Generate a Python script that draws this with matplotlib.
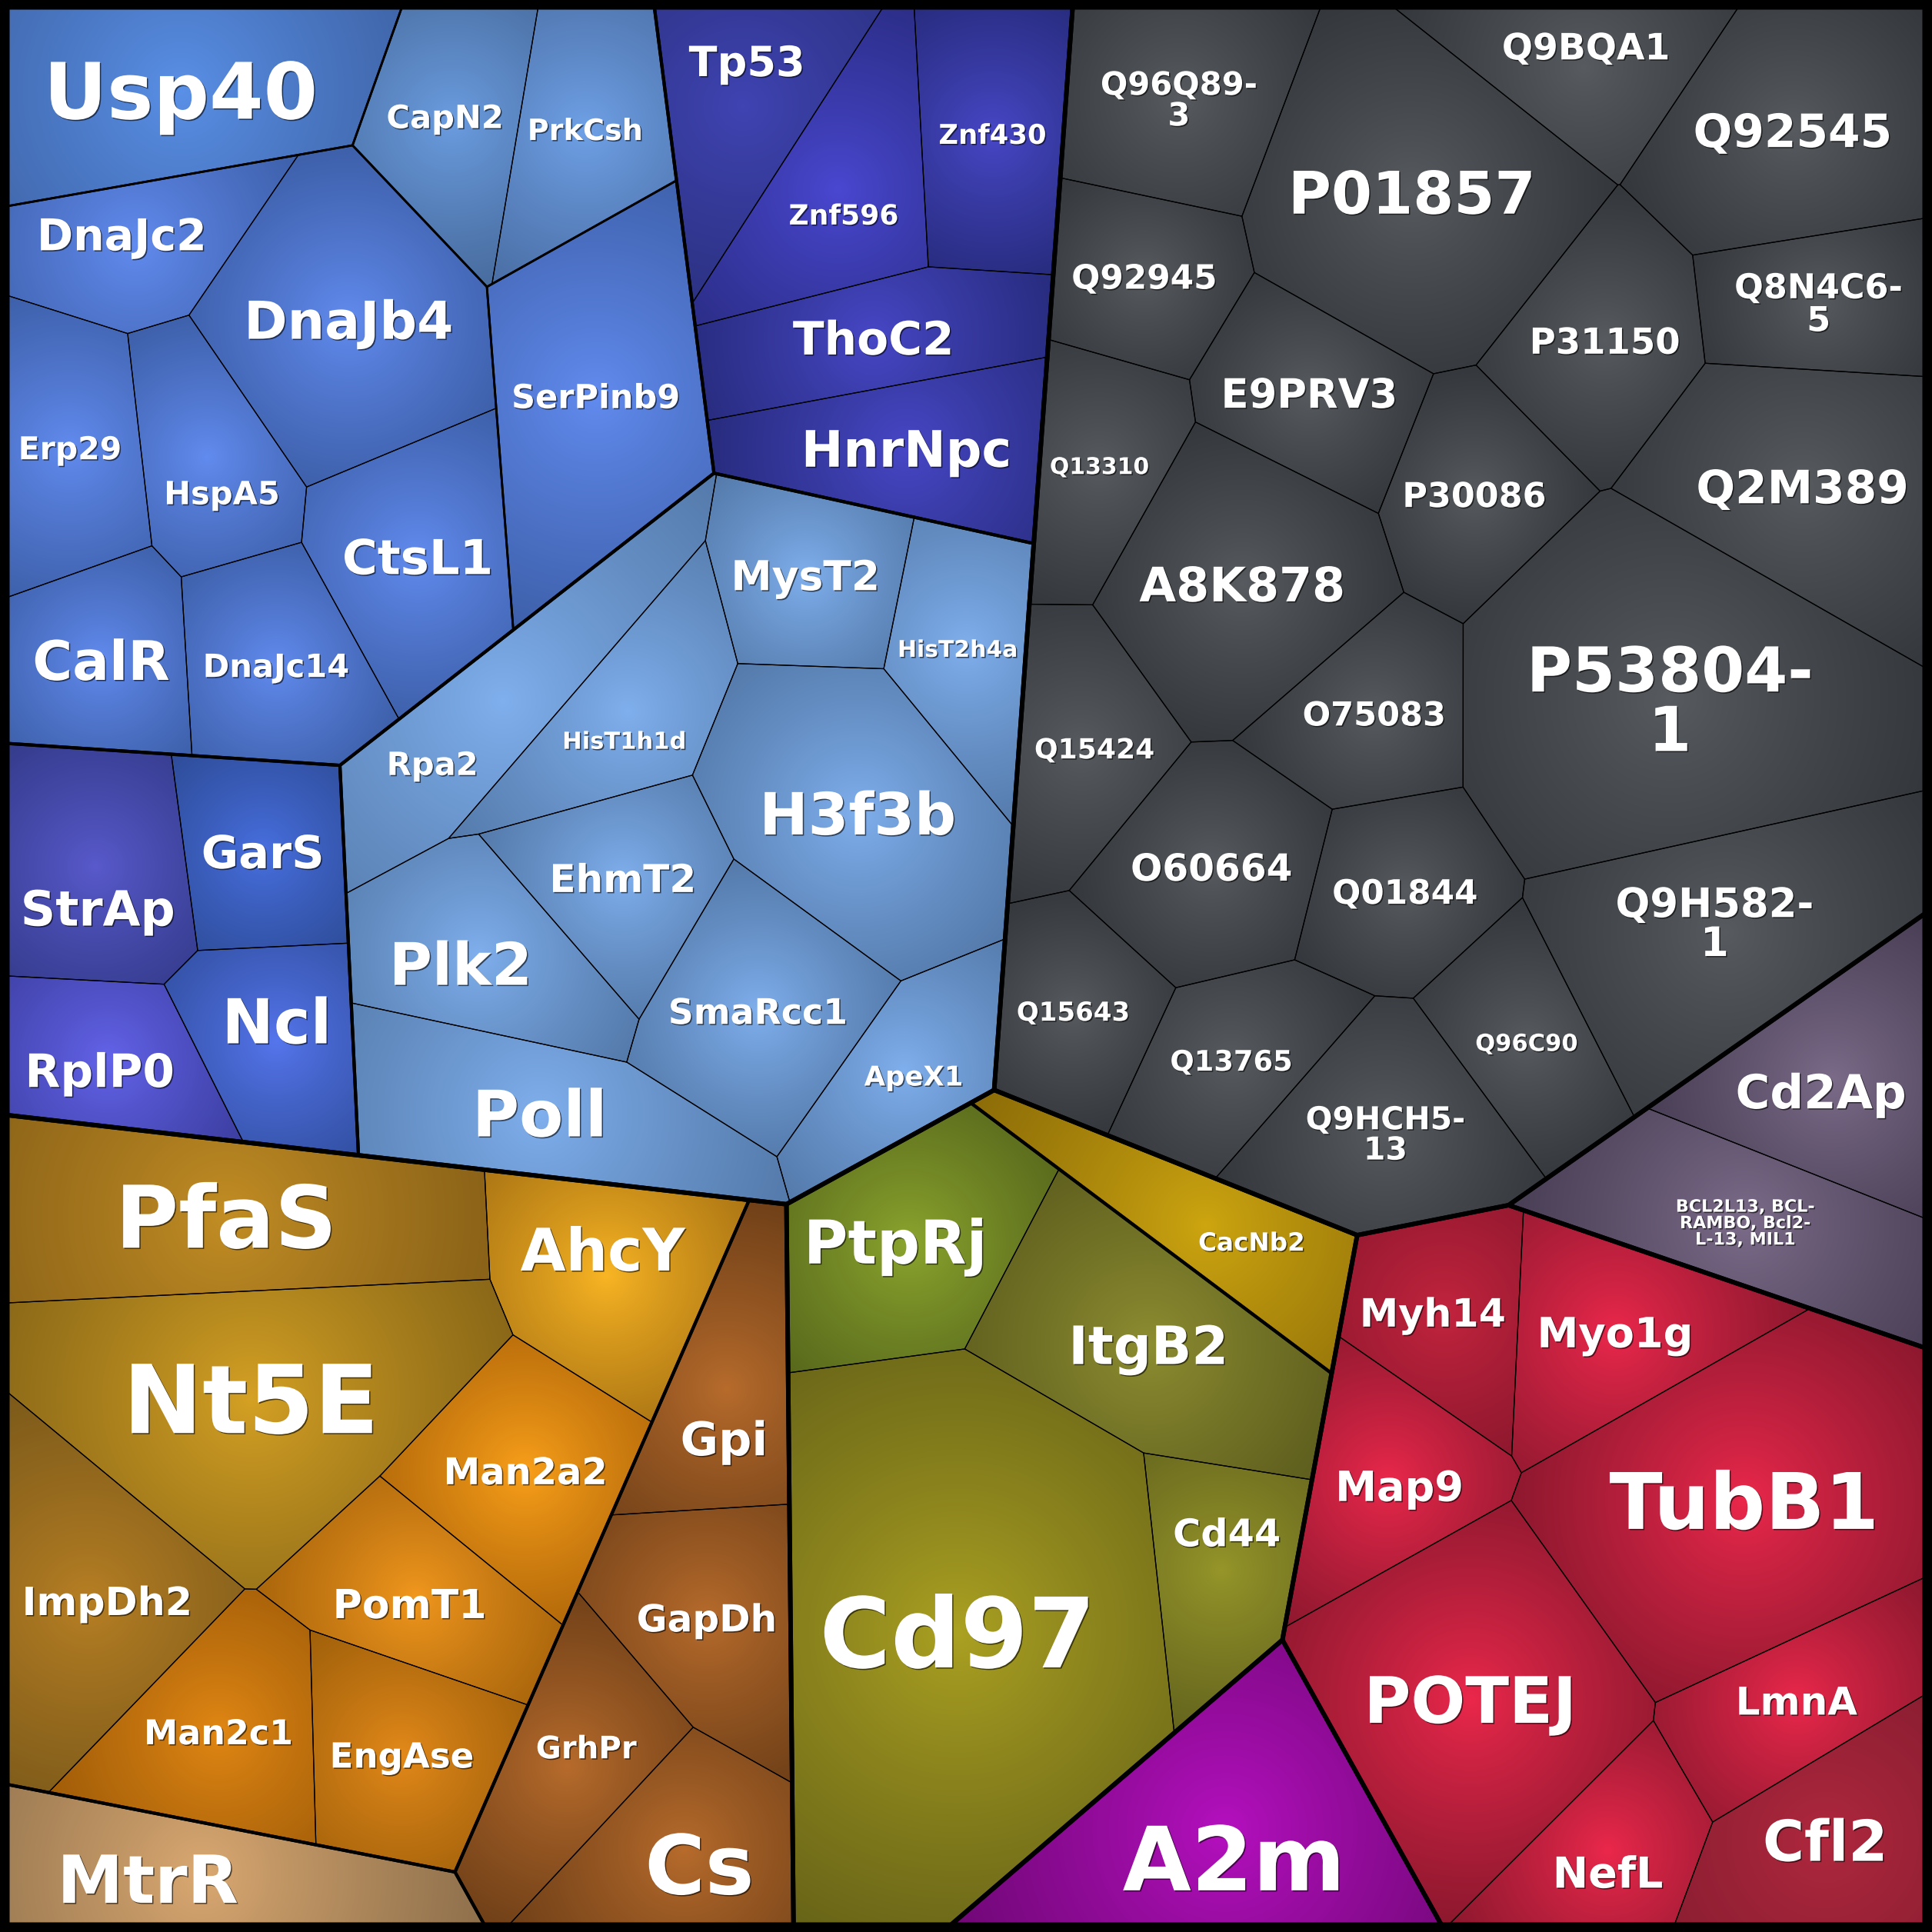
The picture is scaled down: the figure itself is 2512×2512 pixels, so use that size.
import re
import numpy as np
import matplotlib
matplotlib.use("Agg")
import matplotlib.pyplot as plt
from matplotlib.path import Path
from matplotlib.patches import Polygon
from matplotlib.textpath import TextPath
from matplotlib.font_manager import FontProperties
import matplotlib.patheffects as pe

# ---------------- data ----------------
# protein names, their place in the hierarchy and the cell size (area, x1000)
names = [
    "Usp40", "CapN2", "PrkCsh", "SerPinb9", "DnaJc2", "DnaJb4", "Erp29", "HspA5", "CtsL1", "CalR", "DnaJc14",
    "Tp53", "Znf596", "Znf430", "ThoC2", "HnrNpc",
    "Rpa2", "MysT2", "HisT2h4a", "HisT1h1d", "H3f3b", "EhmT2", "Plk2", "SmaRcc1", "Poll", "ApeX1",
    "StrAp", "GarS", "Ncl", "RplP0",
    "Q96Q89-3", "Q9BQA1", "P01857", "Q92545", "Q92945", "Q8N4C6-5", "P31150", "E9PRV3", "Q13310", "Q2M389",
    "P30086", "A8K878", "O75083", "P53804-1", "Q15424", "O60664", "Q01844", "Q9H582-1", "Q15643", "Q13765",
    "Q9HCH5-13", "Q96C90",
    "Cd2Ap", "BCL2L13, BCL-RAMBO, Bcl2-L-13, MIL1",
    "Myh14", "Myo1g", "Map9", "TubB1", "POTEJ", "LmnA", "NefL", "Cfl2",
    "A2m",
    "PtpRj", "ItgB2", "Cd44", "Cd97", "CacNb2",
    "PfaS", "AhcY", "Nt5E", "Man2a2", "PomT1", "ImpDh2", "Man2c1", "EngAse",
    "MtrR",
    "Gpi", "GapDh", "GrhPr", "Cs",
]
groups = (["blue/A/usp", "blue/A/cap", "blue/A/cap", "blue/A/serp"] + ["blue/A/dna"] * 7
          + ["blue/B"] * 5 + ["blue/C"] * 10 + ["blue/D"] * 4
          + ["gray"] * 22 + ["purple"] * 2 + ["red"] * 8 + ["a2m"]
          + ["olive/olive"] * 4 + ["olive/yellow"]
          + ["orange/orange"] * 8 + ["orange/tan"] + ["orange/brown"] * 4)
values = [
    40.2, 21.2, 21.7, 43.3, 20.2, 43.1, 22.3, 19.6, 27.6, 21.0, 22.7,
    22.1, 25.0, 24.4, 23.3, 25.8,
    28.6, 20.4, 19.2, 21.7, 44.5, 20.8, 25.9, 28.5, 33.0, 18.3,
    26.7, 19.5, 20.1, 18.6,
    27.2, 20.1, 55.4, 38.0, 19.6, 19.7, 25.7, 21.8, 18.9, 39.2,
    21.7, 38.4, 20.6, 79.9, 22.1, 27.2, 21.7, 46.8, 19.5, 20.6,
    29.0, 19.4,
    27.6, 31.4,
    20.1, 25.5, 22.0, 67.8, 55.6, 21.4, 18.3, 24.3,
    45.6,
    31.6, 39.4, 19.9, 118.0, 21.2,
    46.6, 27.6, 62.4, 26.7, 22.8, 33.7, 25.8, 23.4,
    28.7,
    21.5, 26.0, 23.1, 22.9,
]

# ---------------- layout seeds (target cell centres, 1568 x 1568 layout space) ----------------
seed_x = [148, 365, 478, 484, 111, 285, 58, 170, 340, 83, 225,
          601, 685, 805, 702, 738,
          414, 652, 782, 502, 695, 511, 388, 617, 440, 734,
          80, 215, 226, 90,
          956, 1284, 1145, 1453, 928, 1474, 1301, 1062, 892, 1461,
          1196, 1008, 1115, 1354, 878, 984, 1140, 1399, 872, 1000,
          1124, 1238,
          1486, 1416,
          1172, 1309, 1127, 1414, 1194, 1456, 1305, 1480,
          995,
          739, 932, 990, 778, 977,
          185, 492, 205, 426, 338, 73, 179, 326,
          165,
          590, 574, 461, 555]
seed_y = [74, 98, 106, 321, 198, 260, 364, 371, 450, 534, 538,
          88, 145, 117, 275, 363,
          561, 468, 525, 587, 658, 716, 770, 819, 902, 867,
          702, 690, 843, 858,
          81, 56, 157, 107, 225, 246, 277, 319, 377, 395,
          401, 473, 578, 566, 605, 702, 722, 755, 819, 859,
          917, 844,
          877, 991,
          1065, 1081, 1201, 1218, 1378, 1379, 1500, 1493,
          1484,
          1008, 1090, 1273, 1323, 996,
          987, 1033, 1134, 1192, 1294, 1298, 1404, 1423,
          1519,
          1125, 1312, 1432, 1499]

# ---------------- styles ----------------
font_pt = [73, 30, 27.5, 31, 41, 49, 29.5, 30, 45, 51, 30,
           39, 26, 25.5, 43, 47,
           30, 38.5, 21.5, 22, 54.5, 36, 55, 33, 60, 25.5,
           45.5, 42.5, 58, 43,
           30, 34, 55, 43, 31.5, 32, 33.5, 38, 21.5, 43,
           32, 44.5, 31, 58, 26, 35, 31.5, 38, 24.5, 26.5,
           29.5, 22,
           44, 16,
           36.5, 39, 39, 73, 60, 36, 40, 53,
           83,
           56.5, 49.5, 35.5, 91, 23.5,
           81, 55, 89, 34.5, 37.5, 36.5, 32, 32.5,
           62,
           43.5, 35, 29, 77]
wrap_at = {"Q96Q89-3": 7, "Q8N4C6-5": 7, "P53804-1": 7, "Q9H582-1": 7, "Q9HCH5-13": 7,
           "BCL2L13, BCL-RAMBO, Bcl2-L-13, MIL1": 13}

palette = {
    "A": ((98, 140, 240), (62, 96, 170)),
    "B": ((72, 72, 200), (40, 44, 126)),
    "C": ((128, 176, 238), (84, 122, 170)),
    "D": ((88, 104, 222), (50, 66, 150)),
    "gray": ((88, 92, 96), (52, 55, 60)),
    "purple": ((124, 108, 138), (72, 62, 84)),
    "red": ((236, 40, 76), (140, 24, 46)),
    "a2m": ((182, 16, 192), (112, 8, 118)),
    "olive": ((160, 155, 40), (100, 100, 28)),
    "yellow": ((206, 166, 16), (140, 108, 8)),
    "orange": ((236, 160, 30), (150, 100, 20)),
    "tan": ((220, 170, 114), (142, 112, 76)),
    "brown": ((184, 108, 44), (112, 64, 24)),
}
leaf_colors = {
    "Usp40": ((90, 145, 232), (64, 102, 170)), "CapN2": ((108, 158, 226), (72, 108, 158)),
    "PrkCsh": ((112, 162, 232), (74, 110, 164)),
    "Tp53": ((64, 68, 180), (44, 50, 130)), "Znf596": ((74, 72, 210), (44, 46, 136)),
    "StrAp": ((90, 90, 205), (52, 60, 140)), "GarS": ((72, 112, 225), (46, 76, 152)),
    "Ncl": ((86, 118, 238), (50, 80, 162)), "RplP0": ((100, 100, 235), (60, 62, 160)),
    "PfaS": ((195, 142, 36), (138, 98, 24)), "AhcY": ((250, 182, 36), (172, 118, 20)),
    "Nt5E": ((214, 162, 36), (138, 104, 24)), "Man2a2": ((250, 160, 26), (180, 106, 10)),
    "ImpDh2": ((184, 128, 36), (124, 90, 26)), "PomT1": ((242, 152, 30), (170, 102, 12)),
    "Man2c1": ((226, 136, 20), (160, 92, 8)), "EngAse": ((228, 138, 26), (160, 96, 10)),
    "PtpRj": ((140, 166, 46), (88, 104, 28)), "ItgB2": ((142, 142, 50), (94, 94, 30)),
    "Cd44": ((150, 150, 42), (100, 100, 30)), "Cd97": ((172, 162, 34), (104, 100, 24)),
    "Myh14": ((196, 36, 62), (142, 24, 46)), "Cfl2": ((176, 40, 62), (140, 30, 50)),
}
line_pt = {1: 4.2, 2: 3.0, 3: 2.0}
leaf_line_pt = 0.9
SIZE = 1568


# ---------------- power diagram helpers ----------------
def clip(poly, a, b, c, lab):
    # keep the part with a*x + b*y <= c, new edge gets label lab
    out = []
    n = len(poly)
    for k in range(n):
        px, py, pl = poly[k]
        qx, qy, _ = poly[(k + 1) % n]
        fp = a * px + b * py - c
        fq = a * qx + b * qy - c
        if fp <= 0:
            out.append((px, py, pl))
            if fq > 0:
                t = fp / (fp - fq)
                out.append((px + t * (qx - px), py + t * (qy - py), lab))
        elif fq <= 0:
            t = fp / (fp - fq)
            out.append((px + t * (qx - px), py + t * (qy - py), pl))
    return out


def power_cells(base, S, w):
    xs, ys, ws = S[:, 0].tolist(), S[:, 1].tolist(), w.tolist()
    n = len(xs)
    res = []
    for i in range(n):
        poly = base
        xi, yi, wi = xs[i], ys[i], ws[i]
        qi = xi * xi + yi * yi
        for j in range(n):
            if j == i:
                continue
            xj, yj = xs[j], ys[j]
            poly = clip(poly, 2 * (xj - xi), 2 * (yj - yi), xj * xj + yj * yj - qi - ws[j] + wi, j)
            if len(poly) < 3:
                poly = []
                break
        res.append(poly)
    return res


def measure(poly):
    n = len(poly)
    a2 = cx = cy = 0.0
    L = {}
    for k in range(n):
        x0, y0, lab = poly[k]
        x1, y1, _ = poly[(k + 1) % n]
        cr = x0 * y1 - x1 * y0
        a2 += cr
        cx += (x0 + x1) * cr
        cy += (y0 + y1) * cr
        L[lab] = L.get(lab, 0.0) + ((x1 - x0) ** 2 + (y1 - y0) ** 2) ** 0.5
    if abs(a2) < 1e-9:
        return 0.0, None, L
    return abs(a2) / 2, (cx / (3 * a2), cy / (3 * a2)), L


def poly_area(pts):
    p = np.asarray(pts, float)
    q = np.roll(p, -1, axis=0)
    return abs((p[:, 0] * q[:, 1] - q[:, 0] * p[:, 1]).sum()) / 2


def evaluate(base, S, w):
    polys = power_cells(base, S, w)
    n = len(S)
    a = np.zeros(n)
    cen = S.copy()
    H = np.zeros((n, n))
    for i, poly in enumerate(polys):
        if not poly:
            continue
        ar, c, L = measure(poly)
        a[i] = ar
        if c is not None:
            cen[i] = c
        for j, l in L.items():
            if j >= 0 and l > 0:
                d = max(np.hypot(S[j, 0] - S[i, 0], S[j, 1] - S[i, 1]), 1e-6)
                H[i, j] -= l / (2 * d)
                H[i, i] += l / (2 * d)
    return a, cen, 0.5 * (H + H.T)


def solve_weights(base, S, w, A, state, maxit=30):
    # damped Newton on the power weights so that cell areas match A
    a, cen, H = state
    lim = 0.3 * A.mean()
    for _ in range(maxit):
        err = A - a
        if np.abs(err).max() < 1e-3 * A.min():
            break
        empty = a <= 0
        e0 = np.abs(err).sum()
        dw = np.linalg.lstsq(H, err, rcond=1e-10)[0]
        dw[empty] = lim
        dw = np.clip(dw, -lim, lim)
        step, ok = 1.0, False
        for _ in range(10):
            w2 = w + step * dw
            w2 -= w2.mean()
            st2 = evaluate(base, S, w2)
            ne2 = (st2[0] <= 0).sum()
            if ne2 < empty.sum() or (ne2 <= empty.sum() and np.abs(A - st2[0]).sum() < (1 - step / 4) * e0):
                ok = True
                break
            step /= 2
        if not ok:
            break
        w = w2
        a, cen, H = st2
    return w, (a, cen, H)


def fit(parent, A, C, outer=35):
    n = len(A)
    if n == 1:
        return [parent]
    base = [(x, y, -1) for x, y in parent]
    A = A * poly_area(parent) / A.sum()
    pp = Path(np.array(parent))
    pc = np.array(measure(base)[1])
    S = C.astype(float).copy()
    for i in range(n):
        for _ in range(40):
            if pp.contains_point(S[i]):
                break
            S[i] = pc + 0.9 * (S[i] - pc)
    C = S.copy()
    w = np.zeros(n)
    state = evaluate(base, S, w)
    for _ in range(outer):
        w, state = solve_weights(base, S, w, A, state)
        a, cen = state[0], state[1]
        if (a <= 0).any():
            break
        moved = C - cen
        m = np.hypot(moved[:, 0], moved[:, 1]).max()
        if m < 0.4:
            break
        if m > 12:
            moved *= 12 / m
        step, ok = 0.9, False
        for _ in range(6):
            S2 = S + step * moved
            st2 = evaluate(base, S2, w)
            if (st2[0] > 0).all():
                ok = True
                break
            step /= 2
        if not ok:
            break
        S, state = S2, st2
    w, state = solve_weights(base, S, w, A, state)
    return [[(x, y) for x, y, _ in p] for p in power_cells(base, S, w)]


# ---------------- hierarchy ----------------
leaf_paths = [tuple(g.split("/")) + (n,) for g, n in zip(groups, names)]
children = {}
for p in leaf_paths:
    for d in range(len(p)):
        lst = children.setdefault(p[:d], [])
        if p[:d + 1] not in lst:
            lst.append(p[:d + 1])

vals = np.array(values) * 1000.0
seeds = np.column_stack([seed_x, seed_y]).astype(float)


def under(node):
    return [i for i, p in enumerate(leaf_paths) if p[:len(node)] == node]


cells = {}


def build(node, poly):
    cells[node] = poly
    kids = children.get(node, [])
    if not kids or len(poly) < 3:
        for k in kids:
            build(k, [])
        return
    A = np.array([vals[under(k)].sum() for k in kids])
    C = np.array([np.average(seeds[under(k)], axis=0, weights=vals[under(k)]) for k in kids])
    for k, pp in zip(kids, fit(poly, A, C)):
        build(k, pp)


build((), [(6.0, 6.0), (1562.0, 6.0), (1562.0, 1562.0), (6.0, 1562.0)])


# ---------------- drawing ----------------
def leaf_key(path):
    return path[1] if len(path) > 2 else path[0]


img = np.zeros((SIZE, SIZE, 3))
for i, leaf in enumerate(leaf_paths):
    poly = np.array(cells[leaf])
    if len(poly) < 3:
        continue
    ctr, edge = leaf_colors.get(names[i], palette[leaf_key(leaf)])
    ctr = np.array(ctr) / 255.0
    edge = np.array(edge) / 255.0
    x0, y0 = np.floor(poly.min(axis=0)).astype(int)
    x1, y1 = np.ceil(poly.max(axis=0)).astype(int)
    x0, y0 = max(x0, 0), max(y0, 0)
    x1, y1 = min(x1, SIZE), min(y1, SIZE)
    gy, gx = np.mgrid[y0:y1, x0:x1]
    pts = np.column_stack([gx.ravel() + 0.5, gy.ravel() + 0.5])
    inside = Path(poly).contains_points(pts)
    _, c, _ = measure([(x, y, 0) for x, y in poly])
    R = np.hypot(poly[:, 0] - c[0], poly[:, 1] - c[1]).max()
    t = np.clip(np.hypot(pts[:, 0] - c[0], pts[:, 1] - c[1]) / R, 0, 1) ** 0.85
    col = ctr[None, :] + (edge - ctr)[None, :] * t[:, None]
    sub = img[y0:y1, x0:x1].reshape(-1, 3)
    sub[inside] = col[inside]
    img[y0:y1, x0:x1] = sub.reshape(y1 - y0, x1 - x0, 3)

fig = plt.figure(figsize=(25.12, 25.12), dpi=100, facecolor="black")
ax = fig.add_axes([0, 0, 1, 1])
ax.set_xlim(0, SIZE)
ax.set_ylim(SIZE, 0)
ax.axis("off")
ax.imshow(img, extent=(0, SIZE, SIZE, 0), interpolation="bilinear", zorder=0)

for leaf in leaf_paths:
    if len(cells[leaf]) >= 3:
        ax.add_patch(Polygon(cells[leaf], closed=True, fill=False, ec="black",
                             lw=leaf_line_pt, joinstyle="round", zorder=2))
for depth in (3, 2, 1):
    for node, poly in cells.items():
        if len(node) == depth and node not in leaf_paths and len(poly) >= 3:
            ax.add_patch(Polygon(poly, closed=True, fill=False, ec="black",
                                 lw=line_pt[depth], joinstyle="round", zorder=3 + (3 - depth)))


def wrap(text, width):
    if not width:
        return [text]
    lines, cur = [], ""
    for tok in re.findall(r"[^\s-]+-|[^\s-]+\s*", text):
        if cur and len((cur + tok).rstrip()) > width:
            lines.append(cur.rstrip())
            cur = tok
        else:
            cur += tok
    lines.append(cur.rstrip())
    return lines


def label_spot(poly, hw, hh, pad):
    # the cell centre if the text box fits there, else the spot with the most room
    P = np.asarray(poly, float)
    Q = np.roll(P, -1, axis=0)
    e = Q - P
    signed = (P[:, 0] * Q[:, 1] - Q[:, 0] * P[:, 1]).sum()
    nrm = np.column_stack([e[:, 1], -e[:, 0]]) * (1 if signed > 0 else -1)
    ln = np.hypot(nrm[:, 0], nrm[:, 1])
    keep = ln > 1e-6
    nrm = nrm[keep] / ln[keep][:, None]
    cc = (nrm * P[keep]).sum(axis=1)
    r = np.abs(nrm[:, 0]) * (hw + pad) + np.abs(nrm[:, 1]) * (hh + pad)
    _, c, _ = measure([(x, y, 0) for x, y in P])
    c = np.array(c)
    if ((cc - nrm @ c) / r).min() >= 1.0:
        return c
    xs = np.arange(P[:, 0].min(), P[:, 0].max(), 1.5)
    ys = np.arange(P[:, 1].min(), P[:, 1].max(), 1.5)
    gx, gy = np.meshgrid(xs, ys)
    pts = np.column_stack([gx.ravel(), gy.ravel()])
    s = ((cc[None, :] - pts @ nrm.T) / r[None, :]).min(axis=1)
    best = s.max()
    cand = pts[s >= min(1.0, best) - 1e-9]
    if best > 1.0:
        # among the spots that fit, keep to the roomiest third, then nearest the centre
        cand = pts[s >= 1.0 + 0.66 * (best - 1.0)]
    return cand[np.argmin(np.hypot(cand[:, 0] - c[0], cand[:, 1] - c[1]))]


fp = FontProperties(family="DejaVu Sans", weight="bold")
PT = (100 / 72) * SIZE / 2512.0
shadow = [pe.withSimplePatchShadow(offset=(1.1, -1.1), shadow_rgbFace="black", alpha=0.6)]
for i, leaf in enumerate(leaf_paths):
    if len(cells[leaf]) < 3:
        continue
    lines = wrap(names[i], wrap_at.get(names[i]))
    fs = font_pt[i]
    wmax = max(TextPath((0, 0), s, size=fs, prop=fp).get_extents().width for s in lines) * PT
    cap = 0.729 * fs * PT
    step = 0.96 * fs * PT
    hbox = cap + step * (len(lines) - 1)
    cx, cy = label_spot(cells[leaf], wmax / 2, hbox / 2, 0.3 * cap + 2)
    top = cy - hbox / 2
    for k, s in enumerate(lines):
        ax.text(cx, top + cap + k * step, s, ha="center", va="baseline", fontsize=fs,
                fontweight="bold", family="DejaVu Sans", color="white",
                path_effects=shadow, zorder=10)

fig.savefig("out.png", dpi=100, facecolor="black")
